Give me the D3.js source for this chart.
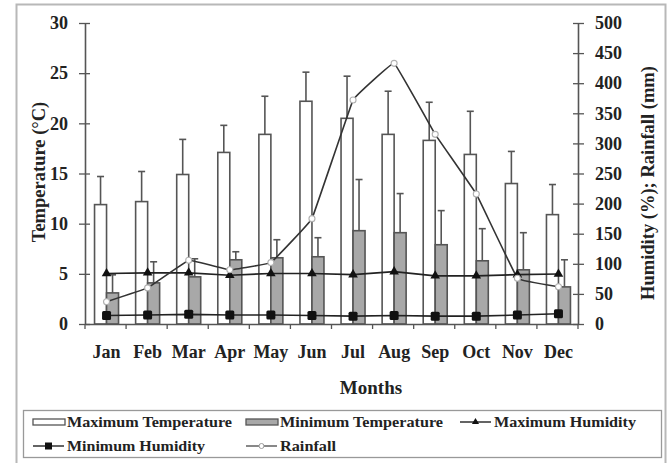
<!DOCTYPE html>
<html>
<head>
<meta charset="utf-8">
<script src="https://cdn.jsdelivr.net/npm/d3@7"></script>
<style>
  body { margin: 0; background: #fff; }
  text { font-family: "Liberation Serif", "Times New Roman", serif; font-weight: bold; fill: #222; }
</style>
</head>
<body>
<div id="graf"></div>
<script>
const months = ['Jan', 'Feb', 'Mar', 'Apr', 'May', 'Jun', 'Jul', 'Aug', 'Sep', 'Oct', 'Nov', 'Dec']
const maxTemp = [11.9, 12.2, 14.9, 17.1, 18.9, 22.2, 20.5, 18.9, 18.3, 16.9, 14.0, 10.9]
const maxTempSD = [2.8, 3.0, 3.5, 2.7, 3.8, 2.9, 4.2, 4.3, 3.8, 4.3, 3.2, 3.0]
const minTemp = [3.1, 4.1, 4.7, 6.4, 6.6, 6.7, 9.3, 9.1, 7.9, 6.3, 5.4, 3.7]
const minTempSD = [1.8, 2.1, 1.8, 0.8, 1.8, 1.9, 5.1, 3.9, 3.4, 3.2, 3.7, 2.7]
const maxHum = [84, 85, 85, 81, 84, 84, 82, 87, 80, 80, 82, 83]
const minHum = [14, 15, 16, 15, 15, 14, 13, 14, 13, 13, 15, 17]
const rain = [37, 60, 106, 90, 102, 175, 372, 433, 315, 216, 76, 62]
const tempTicks = [0, 5, 10, 15, 20, 25, 30]
const rightTicks = [0, 50, 100, 150, 200, 250, 300, 350, 400, 450, 500]

const W = 671, H = 463
const svg = d3.select('#graf').append('svg').attr('width', W).attr('height', H)

// outer frame
svg.append('rect').attr('x', 16.5).attr('y', 4.5).attr('width', 649).attr('height', 470)
  .attr('fill', 'none').attr('stroke', '#b8b8b8').attr('stroke-width', 2)

const pLeft = 85, pRight = 578, pTop = 23, pBottom = 324

const x = d3.scaleBand().domain(months).range([pLeft, pRight])
const yT = d3.scaleLinear().domain([0, 30]).range([pBottom, pTop])
const yR = d3.scaleLinear().domain([0, 500]).range([pBottom, pTop])
const barW = 12

const data = months.map((m, i) => ({
  m, maxT: maxTemp[i], maxSD: maxTempSD[i], minT: minTemp[i], minSD: minTempSD[i],
  maxH: maxHum[i], minH: minHum[i], rain: rain[i]
}))
const cx = d => x(d.m) + x.bandwidth() / 2 + 1

// bars
const barStroke = '#555'
svg.append('g').selectAll('rect').data(data).enter().append('rect')
  .attr('x', d => cx(d) - barW).attr('y', d => yT(d.maxT))
  .attr('width', barW).attr('height', d => pBottom - yT(d.maxT))
  .attr('fill', '#fff').attr('stroke', barStroke).attr('stroke-width', 1.6)
svg.append('g').selectAll('rect').data(data).enter().append('rect')
  .attr('x', d => cx(d)).attr('y', d => yT(d.minT))
  .attr('width', barW).attr('height', d => pBottom - yT(d.minT))
  .attr('fill', '#a8a8a8').attr('stroke', barStroke).attr('stroke-width', 1.6)

// error bars (upward only)
function errBars(xoff, val, sd) {
  const g = svg.append('g').attr('stroke', '#555').attr('stroke-width', 1.6)
  g.selectAll('line.v').data(data).enter().append('line').attr('class', 'v')
    .attr('x1', d => cx(d) + xoff).attr('x2', d => cx(d) + xoff)
    .attr('y1', d => yT(d[val])).attr('y2', d => yT(d[val] + d[sd]))
  g.selectAll('line.c').data(data).enter().append('line').attr('class', 'c')
    .attr('x1', d => cx(d) + xoff - 3.5).attr('x2', d => cx(d) + xoff + 3.5)
    .attr('y1', d => yT(d[val] + d[sd])).attr('y2', d => yT(d[val] + d[sd]))
}
errBars(-barW / 2, 'maxT', 'maxSD')
errBars(barW / 2, 'minT', 'minSD')

// axes
const axL = svg.append('g').attr('transform', `translate(${pLeft},0)`)
  .call(d3.axisLeft(yT).tickValues(tempTicks).tickSizeInner(6).tickSizeOuter(0).tickPadding(11))
axL.selectAll('.tick line').attr('x2', 5).attr('x1', -6)
const axR = svg.append('g').attr('transform', `translate(${pRight},0)`)
  .call(d3.axisRight(yR).tickValues(rightTicks).tickSizeInner(6).tickSizeOuter(0).tickPadding(11))
axR.selectAll('.tick line').attr('x1', -5).attr('x2', 6)
const axB = svg.append('g').attr('transform', `translate(0,${pBottom})`)
  .call(d3.axisBottom(x).tickSize(0).tickPadding(21))
axB.selectAll('.tick text').attr('x', 1)
// band boundary ticks
svg.append('g').selectAll('line').data(d3.range(months.length + 1)).enter().append('line')
  .attr('x1', i => pLeft + i * x.step()).attr('x2', i => pLeft + i * x.step())
  .attr('y1', pBottom).attr('y2', pBottom + 5).attr('stroke', '#555').attr('stroke-width', 1.3)

for (const ax of [axL, axR, axB]) {
  ax.select('.domain').attr('stroke', '#555').attr('stroke-width', 1.6)
  ax.selectAll('.tick line').attr('stroke', '#555').attr('stroke-width', 1.3)
  ax.selectAll('.tick text').attr('font-size', 18).attr('fill', '#222')
    .attr('font-family', '"Liberation Serif", serif').attr('font-weight', 'bold')
}

// lines
const line = yKey => d3.line().x(d => cx(d)).y(d => yR(d[yKey]))
svg.append('path').datum(data).attr('d', line('maxH')).attr('fill', 'none')
  .attr('stroke', '#222').attr('stroke-width', 1.6)
svg.append('path').datum(data).attr('d', line('minH')).attr('fill', 'none')
  .attr('stroke', '#222').attr('stroke-width', 1.6)
svg.append('path').datum(data).attr('d', line('rain').curve(d3.curveCardinal.tension(0.85)))
  .attr('fill', 'none').attr('stroke', '#333').attr('stroke-width', 1.6)

const tri = d3.symbol().type(d3.symbolTriangle).size(40)
svg.append('g').selectAll('path').data(data).enter().append('path')
  .attr('d', tri).attr('transform', d => `translate(${cx(d)},${yR(d.maxH)})`).attr('fill', '#111')
svg.append('g').selectAll('rect').data(data).enter().append('rect')
  .attr('x', d => cx(d) - 4.5).attr('y', d => yR(d.minH) - 4.5)
  .attr('width', 9).attr('height', 9).attr('rx', 1.5).attr('fill', '#111')
svg.append('g').selectAll('circle').data(data).enter().append('circle')
  .attr('cx', d => cx(d)).attr('cy', d => yR(d.rain)).attr('r', 3)
  .attr('fill', '#fff').attr('stroke', '#b0b0b0').attr('stroke-width', 1.1)

// axis titles
svg.append('text').attr('transform', `translate(45,172) rotate(-90)`)
  .attr('text-anchor', 'middle').attr('font-size', 18.5).text('Temperature (°C)')
svg.append('text').attr('transform', `translate(654,183) rotate(-90)`)
  .attr('text-anchor', 'middle').attr('font-size', 18.5).text('Humidity (%); Rainfall (mm)')
svg.append('text').attr('x', 371).attr('y', 394).attr('text-anchor', 'middle')
  .attr('font-size', 19).text('Months')

// legend
const lg = svg.append('g')
lg.append('rect').attr('x', 23.5).attr('y', 410.5).attr('width', 638).attr('height', 47)
  .attr('fill', 'none').attr('stroke', '#999').attr('stroke-width', 1.3)
const items = [
  { label: 'Maximum Temperature', len: 165, type: 'bar', fill: '#fff', x: 33, y: 422 },
  { label: 'Minimum Temperature', len: 163, type: 'bar', fill: '#a8a8a8', x: 246, y: 422 },
  { label: 'Maximum Humidity', len: 142, type: 'tri', x: 460, y: 422 },
  { label: 'Minimum Humidity', len: 138, type: 'sq', x: 33, y: 446 },
  { label: 'Rainfall', len: 56, type: 'circ', x: 246, y: 446 }
]
items.forEach(it => {
  const g = lg.append('g').attr('transform', `translate(${it.x},${it.y})`)
  if (it.type === 'bar') {
    g.append('rect').attr('x', 0).attr('y', -3).attr('width', 32).attr('height', 6)
      .attr('fill', it.fill).attr('stroke', '#555').attr('stroke-width', 1.3)
  } else {
    g.append('line').attr('x1', 0).attr('x2', 31).attr('y1', 0).attr('y2', 0)
      .attr('stroke', it.type === 'circ' ? '#555' : '#222').attr('stroke-width', 1.4)
    if (it.type === 'tri') g.append('path').attr('d', d3.symbol().type(d3.symbolTriangle).size(22))
      .attr('transform', 'translate(15.5,0)').attr('fill', '#111')
    if (it.type === 'sq') g.append('rect').attr('x', 12).attr('y', -3.5).attr('width', 7).attr('height', 7).attr('fill', '#111')
    if (it.type === 'circ') g.append('circle').attr('cx', 15.5).attr('cy', 0).attr('r', 2.5)
      .attr('fill', '#fff').attr('stroke', '#999')
  }
  g.append('text').attr('x', 34).attr('y', 5).attr('font-size', 14)
    .attr('textLength', it.len).attr('lengthAdjust', 'spacingAndGlyphs').text(it.label)
})
</script>
</body>
</html>
